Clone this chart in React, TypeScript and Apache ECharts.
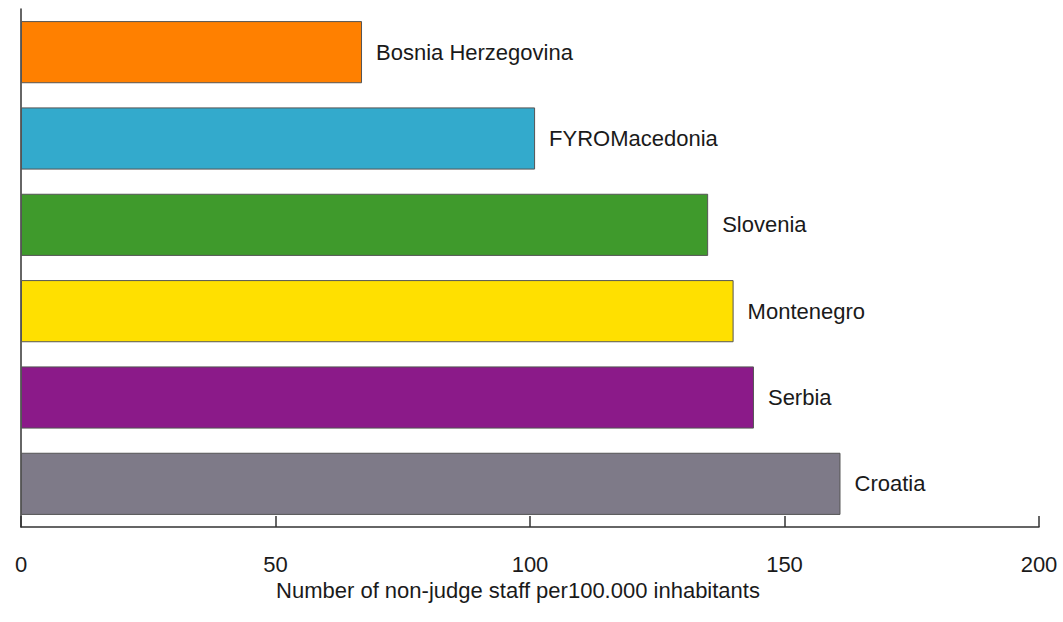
import React, { useEffect, useRef } from "react";
import * as echarts from "echarts";

const categories = [
  "Bosnia Herzegovina",
  "FYROMacedonia",
  "Slovenia",
  "Montenegro",
  "Serbia",
  "Croatia",
];
const values = [67, 101, 135, 140, 144, 161];
const colors = ["#FF8000", "#33AACC", "#3F9A2C", "#FFE000", "#8B1A89", "#7E7A88"];
const axisTitle = "Number of non-judge staff per100.000 inhabitants";

const FONT = "'Liberation Sans', Arial, Helvetica, sans-serif";

export default function App() {
  const ref = useRef<HTMLDivElement>(null);
  useEffect(() => {
    if (!ref.current) return;
    const chart = echarts.init(ref.current, undefined, { renderer: "svg" });
    chart.setOption({
      animation: false,
      backgroundColor: "#ffffff",
      grid: { left: 21, right: 24, top: 9, bottom: 95, containLabel: false },
      xAxis: {
        type: "value",
        min: 0,
        max: 200,
        interval: 50,
        name: axisTitle,
        nameLocation: "middle",
        nameGap: 50,
        nameTextStyle: {
          fontFamily: FONT,
          fontSize: 22,
          color: "#1a1a1a",
          padding: [0, 24, 0, 0],
          verticalAlign: "top",
        },
        axisLine: { show: true, lineStyle: { color: "#333", width: 1.5 } },
        axisTick: { show: true, inside: true, length: 11, lineStyle: { color: "#333", width: 1.5 } },
        axisLabel: { fontFamily: FONT, fontSize: 22, color: "#1a1a1a", margin: 26 },
        splitLine: { show: false },
      },
      yAxis: {
        type: "category",
        data: categories,
        inverse: true,
        axisLine: { show: true, lineStyle: { color: "#333", width: 1.5 } },
        axisTick: { show: false },
        axisLabel: { show: false },
        splitLine: { show: false },
      },
      series: [
        {
          type: "bar",
          barCategoryGap: "28%",
          data: values.map((v, i) => ({
            value: v,
            itemStyle: { color: colors[i] },
          })),
          itemStyle: { borderColor: "#555", borderWidth: 1 },
          label: {
            show: true,
            position: "right",
            distance: 14,
            formatter: "{b}",
            fontFamily: FONT,
            fontSize: 22,
            color: "#1a1a1a",
          },
        },
      ],
    });
    return () => chart.dispose();
  }, []);
  return <div ref={ref} style={{ width: 1063, height: 622, position: "absolute", left: 0, top: 0 }} />;
}
